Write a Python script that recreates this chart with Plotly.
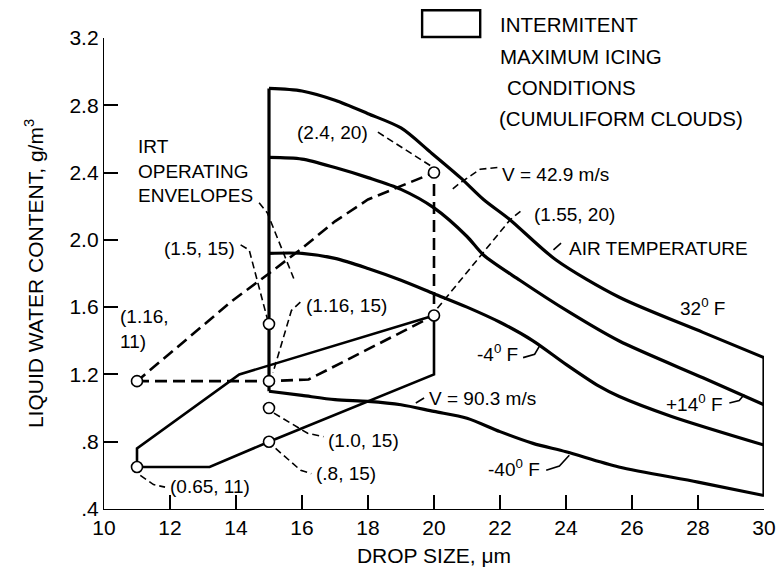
import plotly.graph_objects as go

FONT = "Liberation Sans, Arial, sans-serif"

# ---- Air-temperature boundaries (intermittent maximum icing, cumuliform clouds)
size_32F = [15, 16, 17, 18, 19, 19.9, 20.8, 21.5, 22.3, 23.7, 25.6, 28.15, 30]
lwc_32F = [2.90, 2.885, 2.83, 2.75, 2.665, 2.52, 2.37, 2.24, 2.12, 1.88, 1.66, 1.45, 1.30]

size_p14F = [15, 16, 17, 18, 19, 20, 21, 21.5, 22.6, 24.1, 25.6, 28.15, 30]
lwc_p14F = [2.49, 2.48, 2.43, 2.37, 2.30, 2.19, 2.02, 1.91, 1.76, 1.57, 1.40, 1.18, 1.02]

size_m4F = [15, 16, 17, 18, 19, 20, 21, 22, 23, 24, 25, 25.6, 27.2, 30]
lwc_m4F = [1.92, 1.92, 1.89, 1.83, 1.76, 1.68, 1.60, 1.51, 1.40, 1.26, 1.13, 1.07, 0.95, 0.78]

size_m40F = [15, 16, 17, 18, 19, 20, 21, 22, 23, 24, 25.6, 28, 30]
lwc_m40F = [1.10, 1.075, 1.05, 1.04, 1.02, 0.98, 0.94, 0.86, 0.79, 0.74, 0.65, 0.56, 0.48]

edge_left_size = [15, 15]
edge_left_lwc = [2.90, 1.10]
edge_right_size = [30, 30]
edge_right_lwc = [1.30, 0.48]

# ---- IRT operating envelopes
v90_size = [11, 13.2, 15, 20, 20, 15, 14.1, 11, 11]
v90_lwc = [0.65, 0.65, 0.80, 1.20, 1.55, 1.25, 1.20, 0.76, 0.65]

v43_size = [11, 15, 16.2, 20, 20, 19, 18, 17, 16, 15, 13.9, 11]
v43_lwc = [1.16, 1.16, 1.17, 1.55, 2.40, 2.32, 2.24, 2.11, 1.95, 1.80, 1.64, 1.16]

# ---- Test points (open circles)
pt_size = [11, 11, 15, 15, 15, 15, 20, 20]
pt_lwc = [1.16, 0.65, 1.5, 1.16, 1.0, 0.8, 2.4, 1.55]

# ---- Axis ticks
x_ticks = [10, 12, 14, 16, 18, 20, 22, 24, 26, 28, 30]
x_ticktext = ["10", "12", "14", "16", "18", "20", "22", "24", "26", "28", "30"]
y_ticks = [0.4, 0.8, 1.2, 1.6, 2.0, 2.4, 2.8, 3.2]
y_ticktext = [".4", ".8", "1.2", "1.6", "2.0", "2.4", "2.8", "3.2"]

# ---- Labels: text, x, y, anchors
label_text = ["(2.4, 20)", "IRT<br>OPERATING<br>ENVELOPES", "(1.5, 15)", "(1.16,<br>11)",
              "(1.16, 15)", "(1.0, 15)", "(.8, 15)", "(0.65, 11)", "V = 42.9 m/s",
              "(1.55, 20)", "AIR TEMPERATURE", "32<sup>0</sup> F", "-4<sup>0</sup> F",
              "V = 90.3 m/s", "+14<sup>0</sup> F", "-40<sup>0</sup> F"]
label_x = [18.05, 10.98, 14.02, 10.42, 16.05, 16.72, 16.35, 11.94, 22.01,
           22.98, 24.04, 27.4, 22.62, 19.8, 28.82, 23.28]
label_y = [2.64, 2.63, 1.95, 1.62, 1.607, 0.81, 0.614, 0.531, 2.39,
           2.148, 1.95, 1.60, 1.33, 1.054, 1.03, 0.644]
label_xanchor = ["right", "left", "right", "left", "left", "left", "left", "left", "left",
                 "left", "left", "left", "right", "left", "right", "right"]
label_yanchor = ["middle", "top", "middle", "top", "middle", "middle", "middle", "middle", "middle",
                 "middle", "middle", "middle", "middle", "middle", "middle", "middle"]

# ---- Legend key text lines
key_lines = ["INTERMITENT", "MAXIMUM ICING", "CONDITIONS", "(CUMULIFORM CLOUDS)"]
key_x = [0.597, 0.597, 0.608, 0.595]
key_y = [1.028, 0.960, 0.894, 0.830]

# ---- Leader lines (dashed) and hooks (solid)
leader_x = [[18.3, 19.9], [21.92, 21.4, 20.8, 20.55], [22.62, 22.31, 20.05],
            [14.14, 14.4, 14.95], [14.7, 14.95, 15.75], [15.95, 15.68, 15.12],
            [15.15, 16.17, 16.65], [15.2, 15.96, 16.28], [11.1, 11.5, 11.85]]
leader_y = [[2.64, 2.44], [2.43, 2.42, 2.34, 2.30], [2.17, 2.12, 1.58],
            [1.97, 1.94, 1.53], [2.22, 2.16, 1.77], [1.63, 1.58, 1.21],
            [0.97, 0.85, 0.83], [0.76, 0.63, 0.61], [0.60, 0.545, 0.53]]
hook_x = [[23.62, 23.85], [22.7, 23.05, 23.2], [23.4, 23.8, 24.1],
          [28.95, 29.25, 29.4], [19.45, 19.7]]
hook_y = [[1.94, 1.98], [1.30, 1.32, 1.37], [0.63, 0.655, 0.72],
          [1.03, 1.045, 1.08], [1.03, 1.06]]

fig = go.Figure()

def line(x, y, width=3, dash="solid", shape="linear"):
    fig.add_trace(go.Scatter(x=x, y=y, mode="lines",
                             line=dict(color="black", width=width, dash=dash, shape=shape,
                                       smoothing=0.8 if shape == "spline" else None),
                             hoverinfo="skip"))

for xs, ys in [(size_32F, lwc_32F), (size_p14F, lwc_p14F), (size_m4F, lwc_m4F), (size_m40F, lwc_m40F)]:
    line(xs, ys, width=3.2, shape="spline")
line(edge_left_size, edge_left_lwc, width=3.2)
line(edge_right_size, edge_right_lwc, width=3.2)

line(v90_size, v90_lwc, width=2.6)
line(v43_size, v43_lwc, width=2.6, dash="12px,6px")

for xs, ys in zip(leader_x, leader_y):
    line(xs, ys, width=1.6, dash="7px,4px")
for xs, ys in zip(hook_x, hook_y):
    line(xs, ys, width=1.6)

fig.add_trace(go.Scatter(x=pt_size, y=pt_lwc, mode="markers",
                         marker=dict(symbol="circle", size=11, color="white",
                                     line=dict(color="black", width=1.6)),
                         hoverinfo="skip", cliponaxis=False))

for t, x, y, xa, ya in zip(label_text, label_x, label_y, label_xanchor, label_yanchor):
    fig.add_annotation(x=x, y=y, text=t, showarrow=False, xanchor=xa, yanchor=ya,
                       align="left", font=dict(family=FONT, size=19, color="black"))

# legend key box and text
fig.add_shape(type="rect", xref="paper", yref="paper", x0=0.482, x1=0.570, y0=1.002, y1=1.059,
              line=dict(color="black", width=2.4), fillcolor="white")
for t, x, y in zip(key_lines, key_x, key_y):
    fig.add_annotation(xref="paper", yref="paper", x=x, y=y, xanchor="left", yanchor="middle",
                       align="left", showarrow=False, text=t,
                       font=dict(family=FONT, size=20.5, color="black"))

fig.update_layout(
    width=781, height=580,
    margin=dict(l=104, r=17, t=38, b=71),
    plot_bgcolor="white", paper_bgcolor="white",
    showlegend=False,
    font=dict(family=FONT, size=21, color="black"),
    xaxis=dict(range=[10, 30], tickmode="array", tickvals=x_ticks, ticktext=x_ticktext,
               ticks="inside", ticklen=14, tickwidth=1.5, tickcolor="black",
               showline=True, linecolor="black", linewidth=1.3, automargin=False,
               showgrid=False, zeroline=False,
               title=dict(text="DROP SIZE, \u03bcm", font=dict(size=21), standoff=9)),
    yaxis=dict(range=[0.4, 3.2], tickmode="array", tickvals=y_ticks, ticktext=y_ticktext,
               ticks="inside", ticklen=14, tickwidth=1.5, tickcolor="black",
               showline=True, linecolor="black", linewidth=1.3, automargin=False,
               showgrid=False, zeroline=False,
               title=dict(text="LIQUID WATER CONTENT, g/m<sup>3</sup>", font=dict(size=21), standoff=20)),
)

fig.write_html("out.html", config={"displayModeBar": False},
               post_script="document.body.style.margin='0px';")
